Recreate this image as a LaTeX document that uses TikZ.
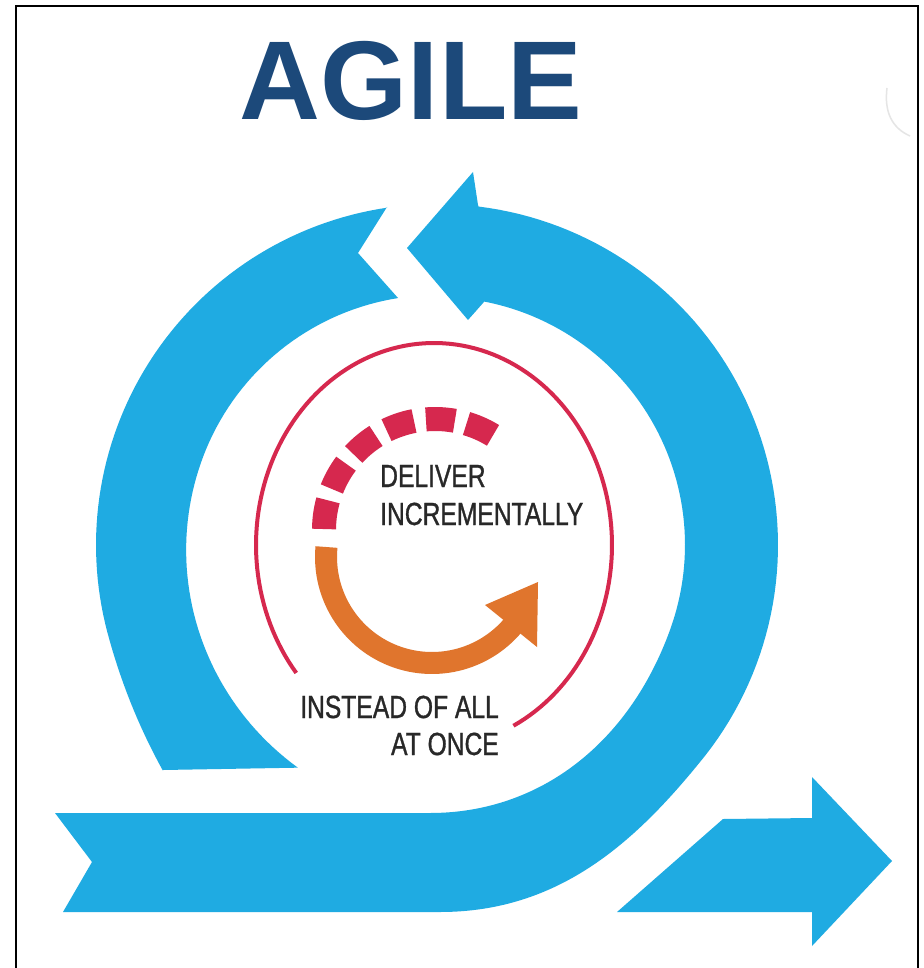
\documentclass[tikz,border=0pt]{standalone}
\usepackage{fontspec}
\setmainfont{Liberation Sans}
\newfontfamily\titlefont{Liberation Sans}
\newfontfamily\condfont[FakeStretch=0.77,FakeBold=1]{Liberation Sans}
\definecolor{agileblue}{RGB}{28,73,122}
\definecolor{skyblue}{RGB}{31,171,226}
\definecolor{mycrimson}{RGB}{214,40,78}
\definecolor{myorange}{RGB}{224,117,45}
\definecolor{textgray}{RGB}{40,40,40}
\begin{document}
\begin{tikzpicture}[x=1pt,y=-1pt,
  bluefill/.style={fill=skyblue},
  lbl/.style={font=\condfont\fontsize{32}{32}\selectfont, text=textgray, inner sep=0pt},
  titlestyle/.style={font=\titlefont\bfseries\fontsize{112}{112}\selectfont, text=agileblue, inner sep=0pt, anchor=base}]
\useasboundingbox (0,0) rectangle (923,968);
\fill[white] (0,0) rectangle (923,968);
% frame
\draw[line width=2.5pt, black] (16,968) -- (16,6) -- (918,6) -- (918,968);
% faint mark top right
\draw[black!10, line width=1.5pt] (887,88) .. controls (884,112) and (892,128) .. (910,136);
% title
\node[titlestyle] (agile) at (411,120) {AGILE};
% left arc with notched tail
\fill[bluefill] (387,207) -- (358,253) -- (398,298)
  -- plot[domain=261:122, samples=80, variable=\t]
     ({437+(250+0.00328*(max(0,200-\t))^2*0.63)*cos(\t)},{545+(250+0.00328*(max(0,200-\t))^2*0.63)*sin(\t)})
  -- (163,770)
  -- plot[domain=140.6:261.6, samples=80, variable=\t]
     ({437+(341+0.0235*(max(0,165-\t))^2)*cos(\t)},{545+(341+0.0235*(max(0,165-\t))^2)*sin(\t)})
  -- cycle;
% band + right arc + arrowhead
\fill[bluefill] (55,813) -- (430,813) .. controls (540,813) and (629,743) .. (670,630)
  -- plot[domain=20:-79, samples=60, variable=\t] ({437+248*cos(\t)},{545+248*sin(\t)})
  -- (468,320) -- (407,248) -- (473,172) -- (478,205)
  -- plot[domain=-83:38, samples=70, variable=\t] ({437+341*cos(\t)},{545+341*sin(\t)})
  .. controls (637,841) and (560,912) .. (440,912)
  -- (63,912) -- (92,862) -- cycle;
% small right arrow
\fill[bluefill] (617,912) -- (723,819) -- (812,818) -- (812,777) -- (892,861)
  -- (812,946) -- (812,912) -- cycle;
% thin red ring
\draw[mycrimson, line width=4pt] plot[domain=140.7:423.5, samples=140, variable=\t]
  ({434+178*cos(\t)},{545+202*sin(\t)});
% red squares
\foreach \a [evaluate=\a as \s using \a-7.5, evaluate=\a as \e using \a+7.5] in {188,209.2,230.4,251.6,272.8,294}
  \draw[mycrimson, line width=24pt] plot[domain=\s:\e, samples=8, variable=\t]
    ({435+111*cos(\t)},{530+111*sin(\t)});
% orange arrow
\draw[myorange, line width=22pt] plot[domain=185.4:40, samples=60, variable=\t]
  ({432+106*cos(\t)},{557+106*sin(\t)});
\fill[myorange] (538,582) -- (485,605) -- (537,647) -- cycle;
% texts
\node[lbl, anchor=base west] (deliver) at (380,487) {DELIVER};
\node[lbl, anchor=base west] (incr) at (380,525) {INCREMENTALLY};
\node[lbl, anchor=base east] (instead) at (499,718) {INSTEAD OF ALL};
\node[lbl, anchor=base east] (atonce) at (499,755) {AT ONCE};
\end{tikzpicture}
\end{document}
